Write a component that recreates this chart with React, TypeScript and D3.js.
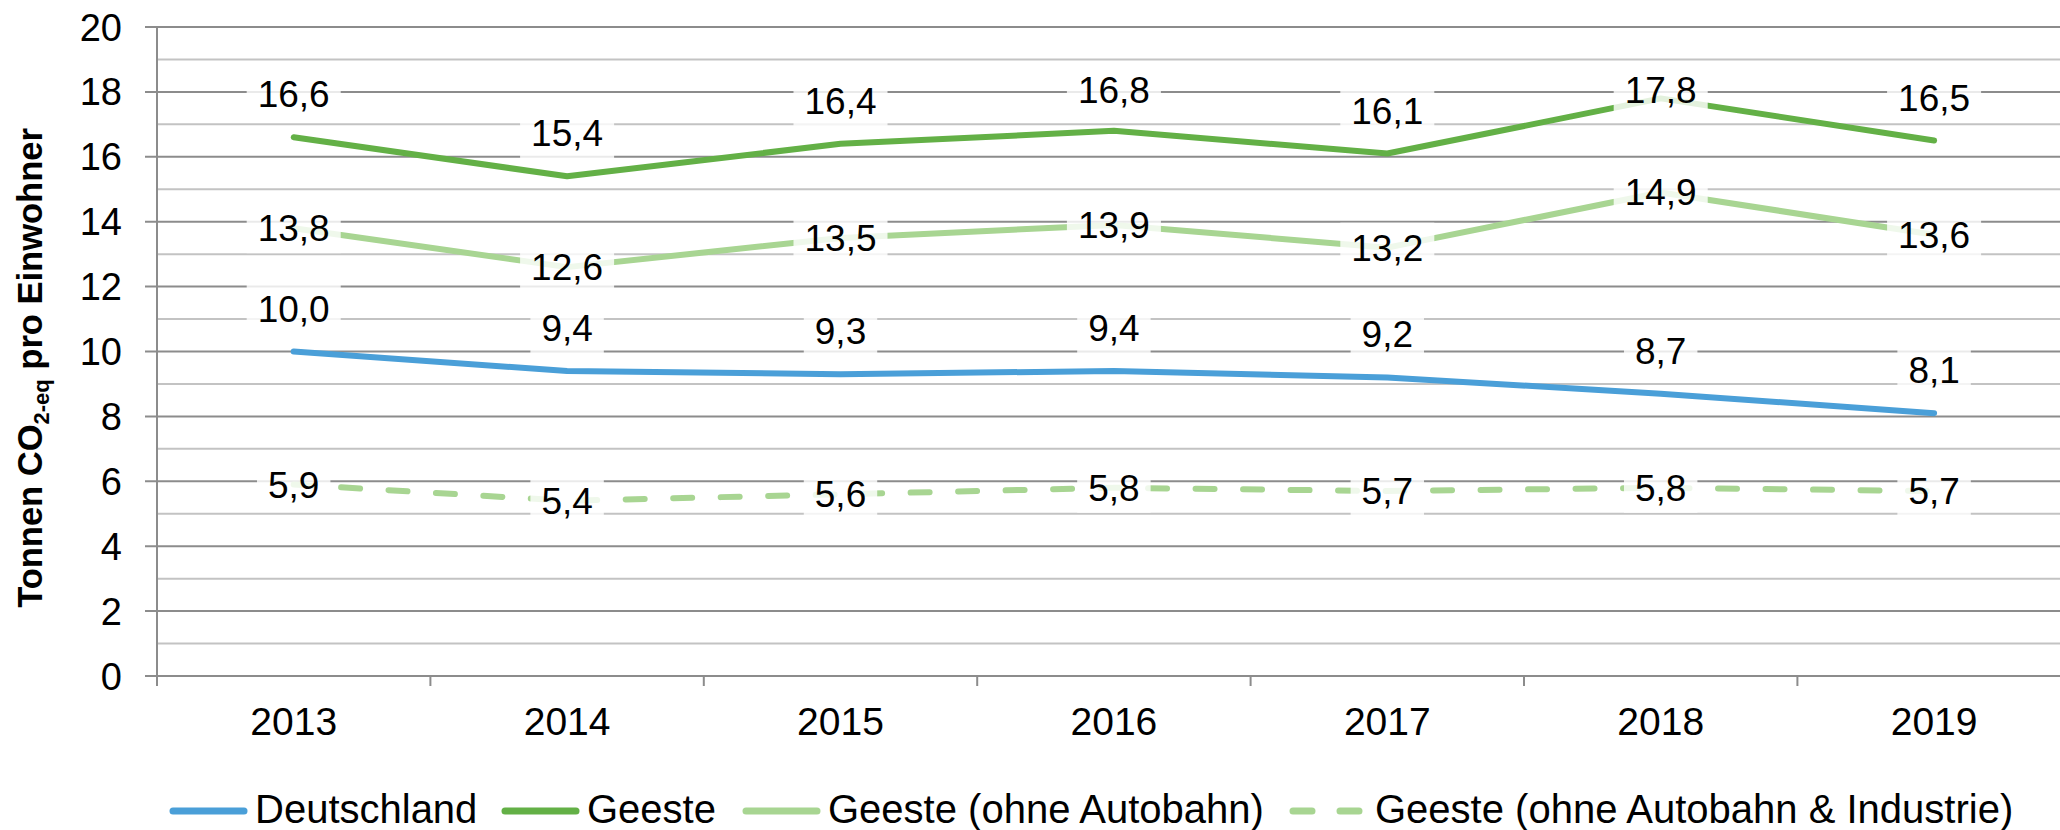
import React from "react";
import * as d3 from "d3";

const years = ["2013", "2014", "2015", "2016", "2017", "2018", "2019"];
const deutschland = [10.0, 9.4, 9.3, 9.4, 9.2, 8.7, 8.1];
const geeste = [16.6, 15.4, 16.4, 16.8, 16.1, 17.8, 16.5];
const geesteOhneAutobahn = [13.8, 12.6, 13.5, 13.9, 13.2, 14.9, 13.6];
const geesteOhneAutobahnIndustrie = [5.9, 5.4, 5.6, 5.8, 5.7, 5.8, 5.7];
const yTicks = [0, 2, 4, 6, 8, 10, 12, 14, 16, 18, 20];
const yMinor = [1, 3, 5, 7, 9, 11, 13, 15, 17, 19];

const seriesNames = [
  "Deutschland",
  "Geeste",
  "Geeste (ohne Autobahn)",
  "Geeste (ohne Autobahn & Industrie)",
];

const W = 2060;
const H = 830;
const FONT = "'Liberation Sans', Arial, Helvetica, sans-serif";

const fmt = (v: number) => v.toFixed(1).replace(".", ",");

function measure(text: string, size: number) {
  if (typeof document === "undefined") return text.length * size * 0.55;
  const c = document.createElement("canvas");
  const ctx = c.getContext("2d")!;
  ctx.font = `${size}px 'Liberation Sans', Arial, sans-serif`;
  return ctx.measureText(text).width;
}

export default function App() {
  const left = 157;
  const bottom = 676;
  const top = 27;
  const x = d3.scaleBand<string>().domain(years).range([left, left + 7 * 273.4]).padding(0);
  const y = d3.scaleLinear().domain([0, 20]).range([bottom, top]);
  const cx = (i: number) => (x(years[i]) as number) + x.bandwidth() / 2;

  const line = d3
    .line<number>()
    .x((_, i) => cx(i))
    .y((d) => y(d));

  const series = [
    { name: seriesNames[0], data: deutschland, color: "#4a9fd8", dash: undefined as string | undefined, pos: "above" },
    { name: seriesNames[1], data: geeste, color: "#63b046", dash: undefined, pos: "above" },
    { name: seriesNames[2], data: geesteOhneAutobahn, color: "#a8d592", dash: undefined, pos: "center" },
    { name: seriesNames[3], data: geesteOhneAutobahnIndustrie, color: "#a8d592", dash: "19 28.5", pos: "center" },
  ];

  const labelSize = 37;
  const tickSize = 38;
  const xLabelSize = 39;
  const legendSize = 40;

  const legendX = [170, 502, 743, 1290];
  const legendY = 811;

  return (
    <svg
      width={W}
      height={H}
      viewBox={`0 0 ${W} ${H}`}
      style={{ position: "absolute", left: 0, top: 0, background: "#fff" }}
      fontFamily={FONT}
    >
      <rect x={0} y={0} width={W} height={H} fill="#fff" />
      {/* minor gridlines */}
      {yMinor.map((t) => (
        <line key={"m" + t} x1={left} x2={W} y1={y(t)} y2={y(t)} stroke="#c3c3c3" strokeWidth={2} />
      ))}
      {/* major gridlines */}
      {yTicks.map((t) => (
        <line key={"g" + t} x1={left - 12} x2={W} y1={y(t)} y2={y(t)} stroke="#8c8c8c" strokeWidth={2} />
      ))}
      {/* y axis */}
      <line x1={left} x2={left} y1={top} y2={bottom + 10} stroke="#8c8c8c" strokeWidth={2} />
      {/* x ticks */}
      {years.map((yr) => (
        <line
          key={"xt" + yr}
          x1={x(yr) as number}
          x2={x(yr) as number}
          y1={bottom}
          y2={bottom + 10}
          stroke="#8c8c8c"
          strokeWidth={2}
        />
      ))}
      {/* y tick labels */}
      {yTicks.map((t) => (
        <text key={"yl" + t} x={122} y={y(t) + 13.5} textAnchor="end" fontSize={tickSize} fill="#000">
          {t}
        </text>
      ))}
      {/* x labels */}
      {years.map((yr, i) => (
        <text key={"xl" + yr} x={cx(i)} y={735} textAnchor="middle" fontSize={xLabelSize} fill="#000">
          {yr}
        </text>
      ))}
      {/* y title */}
      <text
        transform={`translate(42, 368) rotate(-90)`}
        textAnchor="middle"
        fontSize={34.5}
        fontWeight="bold"
        fill="#000"
      >
        Tonnen CO
        <tspan fontSize={22} dy={7}>2-eq</tspan>
        <tspan dy={-7}> pro Einwohner</tspan>
      </text>
      {/* lines */}
      {series.map((s) => (
        <path
          key={s.name}
          d={line(s.data) as string}
          fill="none"
          stroke={s.color}
          strokeWidth={6}
          strokeLinecap="round"
          strokeLinejoin="round"
          strokeDasharray={s.dash}
        />
      ))}
      {/* data labels */}
      {series.map((s) =>
        s.data.map((v, i) => {
          const txt = fmt(v);
          const tw = measure(txt, labelSize);
          const cy = s.pos === "above" ? Math.max(y(v) - 43, 90) : y(v);
          const bw = tw + 22;
          const bh = 50;
          return (
            <g key={s.name + i}>
              <rect x={cx(i) - bw / 2} y={cy - bh / 2} width={bw} height={bh} fill="#fff" fillOpacity={0.82} />
              <text x={cx(i)} y={cy + 13} textAnchor="middle" fontSize={labelSize} fill="#000">
                {txt}
              </text>
            </g>
          );
        })
      )}
      {/* legend */}
      {series.map((s, i) => (
        <g key={"lg" + i}>
          <line
            x1={legendX[i] + 3}
            x2={legendX[i] + (i === 3 ? 71 : 74)}
            y1={legendY}
            y2={legendY}
            stroke={s.color}
            strokeWidth={7}
            strokeLinecap="round"
            strokeDasharray={s.dash ? "19 28" : undefined}
          />
          <text x={legendX[i] + 85} y={823} fontSize={legendSize} fill="#000">
            {s.name}
          </text>
        </g>
      ))}
    </svg>
  );
}
